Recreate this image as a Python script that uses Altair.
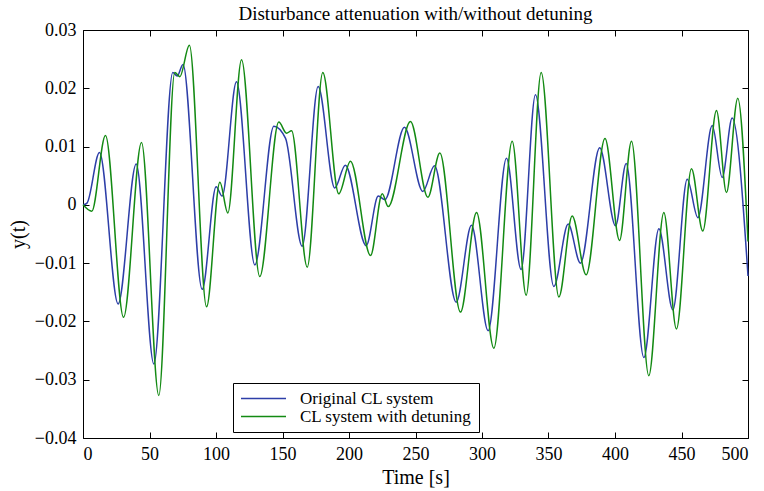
import altair as alt
import pandas as pd

# Original CL system (blue) - extrema
t_orig = [0, 3, 12.4, 26.4, 40, 53.3, 67.5, 70.8, 75.2, 89.6, 100.1, 104.6, 115.4, 129.2,
          143.5, 152.3, 164.8, 176.8, 189.3, 197.2, 212.9, 222, 227, 241.7, 255.5, 264.3,
          280.6, 292.1, 304.6, 318.4, 329.4, 340.2, 354, 364.8, 374, 388.5, 400.4, 408.4,
          421.7, 433, 443.5, 454.3, 462.3, 473.1, 480.6, 488.1, 500]
y_orig = [0, 0.0003, 0.0090, -0.0170, 0.0070, -0.0273, 0.0227, 0.0221, 0.0241, -0.0145,
          0.0031, 0.0015, 0.0211, -0.0103, 0.0135, 0.0114, -0.0071, 0.0203, 0.0029, 0.0068,
          -0.0070, 0.0015, 0.0009, 0.0133, 0.0023, 0.0067, -0.0167, -0.0035, -0.0216, 0.0080,
          -0.0111, 0.0189, -0.0140, -0.0033, -0.0100, 0.0098, -0.0036, 0.0071, -0.0262,
          -0.0041, -0.0180, 0.0044, -0.0022, 0.0136, 0.0047, 0.0149, -0.0122]

# CL system with detuning (green)
t_det = [0, 6.6, 16.9, 30.5, 44, 57, 69, 72.8, 80, 92.9, 102.9, 108.9, 119.2, 132.9,
         147.2, 153, 156.8, 168.6, 180.3, 192.3, 201.1, 216.2, 225, 229.5, 246.2, 259.3,
         268.3, 283.8, 295.9, 308.9, 322.7, 333.2, 344.5, 357.8, 367.8, 378.3, 392.5,
         403.4, 412.4, 425.4, 436.7, 446.2, 457.5, 466, 476.3, 483.8, 492.3, 500]
y_det = [0, -0.0011, 0.0119, -0.0193, 0.0107, -0.0327, 0.0227, 0.0220, 0.0274, -0.0175,
         0.0039, -0.0014, 0.0249, -0.0123, 0.0142, 0.0123, 0.0127, -0.0107, 0.0227, 0.0019,
         0.0075, -0.0087, 0.0019, -0.0003, 0.0143, 0.0013, 0.0089, -0.0184, -0.0013, -0.0246,
         0.0109, -0.0155, 0.0227, -0.0158, -0.0019, -0.0120, 0.0114, -0.0061, 0.0109,
         -0.0293, -0.0013, -0.0213, 0.0062, -0.0045, 0.0162, 0.0021, 0.0183, -0.0063]

series_names = ["Original CL system", "CL system with detuning"]
series_colors = ["#2d3ea8", "#138a13"]
x_ticks = [0, 50, 100, 150, 200, 250, 300, 350, 400, 450, 500]
y_ticks = [-0.04, -0.03, -0.02, -0.01, 0, 0.01, 0.02, 0.03]

df = pd.concat([
    pd.DataFrame({"t": t_orig, "y": y_orig, "series": series_names[0], "k": 0}),
    pd.DataFrame({"t": t_det, "y": y_det, "series": series_names[1], "k": 1}),
])

FONT = "Liberation Serif"
xs = alt.Scale(domain=[0, 500], nice=False, zero=False)
ys = alt.Scale(domain=[-0.04, 0.03], nice=False, zero=False)

lines = alt.Chart(df).mark_line(interpolate="monotone", strokeWidth=1.5).encode(
    x=alt.X("t:Q", scale=xs, axis=alt.Axis(
        orient="bottom", values=x_ticks, title="Time [s]", offset=-6, tickSize=6,
        labelPadding=7, domain=False, grid=False, format="d", titlePadding=4,
        labelFont=FONT, labelFontSize=18, titleFont=FONT, titleFontSize=20)),
    y=alt.Y("y:Q", scale=ys, axis=alt.Axis(
        orient="left", values=y_ticks, title="y(t)", offset=-6, tickSize=6,
        labelPadding=7, domain=False, grid=False, format=".2~f", titlePadding=6,
        labelFont=FONT, labelFontSize=18, titleFont=FONT, titleFontSize=20)),
    color=alt.Color("series:N", scale=alt.Scale(domain=series_names, range=series_colors),
                    legend=alt.Legend(title=None, orient="none", legendX=150, legendY=353,
                                      symbolType="M-1,0H5", symbolSize=225,
                                      symbolStrokeWidth=1.5, labelFont=FONT,
                                      labelFontSize=17, labelColor="black",
                                      labelOffset=43, labelLimit=400, padding=7,
                                      rowPadding=0, fillColor="white",
                                      strokeColor="black")),
    order="k:Q",
)

ticks2 = alt.Chart(df).mark_line(opacity=0).encode(
    x=alt.X("t:Q", scale=xs, axis=alt.Axis(
        orient="top", values=x_ticks, title=None, labels=False, offset=-6, tickSize=6,
        domain=False, grid=False)),
    y=alt.Y("y:Q", scale=ys, axis=alt.Axis(
        orient="right", values=y_ticks, title=None, labels=False, offset=-6, tickSize=6,
        domain=False, grid=False)),
    detail="series:N",
)

chart = alt.layer(lines, ticks2).resolve_axis(x="independent", y="independent").properties(
    width=665, height=408,
    autosize=alt.AutoSizeParams(type="none"),
    padding={"left": 83, "top": 30, "right": 16, "bottom": 53},
    title=alt.Title("Disturbance attenuation with/without detuning", font=FONT,
                    fontSize=19, fontWeight="normal", color="black", anchor="middle",
                    baseline="bottom", offset=8, dy=30),
).configure_view(stroke="black", strokeWidth=1).configure_axis(
    labelFont=FONT, labelFontSize=18, labelColor="black", tickColor="black",
    tickWidth=1, titleFont=FONT, titleFontSize=20, titleFontWeight="normal",
    titleColor="black",
)

chart.save("out.html", embed_options={"renderer": "svg", "actions": False})
